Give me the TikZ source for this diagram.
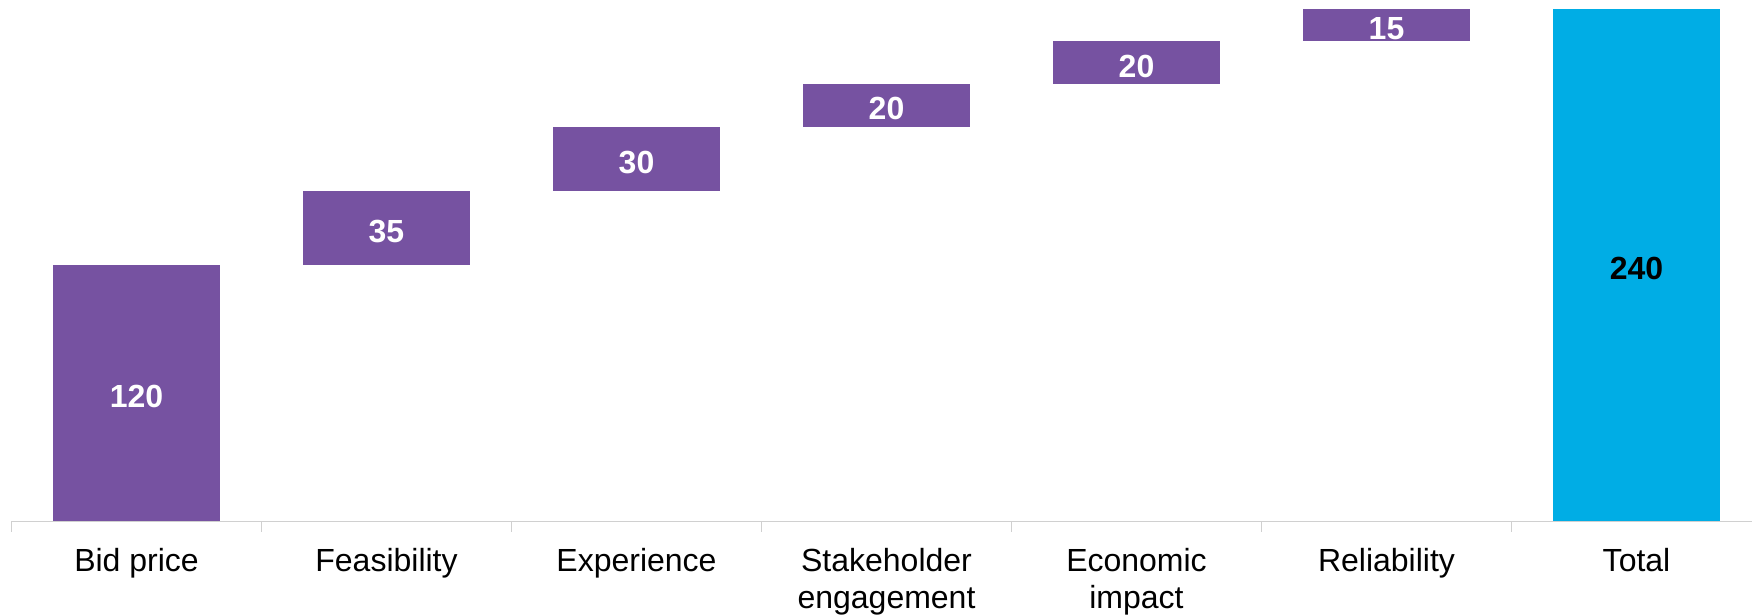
\documentclass[tikz,border=0pt]{standalone}
\usepackage{fontspec}
\setmainfont{Liberation Sans}
\definecolor{barpurple}{HTML}{7652A1}
\definecolor{barblue}{HTML}{00ADE5}
\definecolor{axisgray}{HTML}{D0D0D0}
\begin{document}
\begin{tikzpicture}[x=0.5pt,y=-0.5pt,
  bar/.style={fill=barpurple, draw=none, inner sep=0pt, minimum width=83.5pt, anchor=south,
    text height=14.6pt, text depth=0pt,
    font=\fontsize{16}{18.5}\selectfont\bfseries, text=white},
  totalbar/.style={bar, fill=barblue, text=black},
  catlabel/.style={anchor=base, align=center, inner sep=0pt, font=\fontsize{16}{18.5}\selectfont, text=black},
  axisline/.style={draw=axisgray, line width=0.7pt}]
\useasboundingbox (0,0) rectangle (1752,615);
% bars (1 unit = 1.0667 px)
\node[bar, minimum height=128pt] (b1) at (136.5,521.7) {120};
\node[bar, minimum height=37.33pt] (b2) at (386.5,265.7) {35};
\node[bar, minimum height=32pt] (b3) at (636.5,191.0) {30};
\node[bar, minimum height=21.33pt] (b4) at (886.5,127.0) {20};
\node[bar, minimum height=21.33pt] (b5) at (1136.5,84.4) {20};
\node[bar, minimum height=16pt] (b6) at (1386.5,41.7) {15};
\node[totalbar, minimum height=256pt] (b7) at (1636.5,521.7) {240};
% axis
\coordinate (a0) at (11.3,521.7);
\coordinate (a1) at (1752,521.7);
\draw[axisline] (a0) -- (a1);
\foreach \i in {0,...,6} {
  \coordinate (t\i) at (11.3+250*\i,521.7);
  \draw[axisline] (t\i) -- ++(0,10);
}
% labels
\node[catlabel] (l1) at (136.5,571) {Bid price};
\node[catlabel] (l2) at (386.5,571) {Feasibility};
\node[catlabel] (l3) at (636.5,571) {Experience};
\node[catlabel] (l4) at (886.5,608) {Stakeholder\\engagement};
\node[catlabel] (l5) at (1136.5,608) {Economic\\impact};
\node[catlabel] (l6) at (1386.5,571) {Reliability};
\node[catlabel] (l7) at (1636.5,571) {Total};
\end{tikzpicture}
\end{document}
